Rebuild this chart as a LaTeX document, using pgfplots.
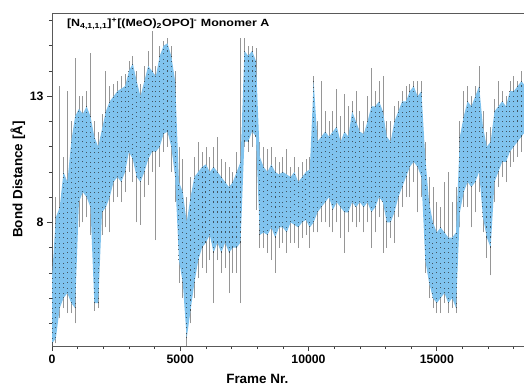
\documentclass[border=0pt]{standalone}
\usepackage{pgfplots}
\pgfplotsset{compat=1.18}
\usepackage{pgfplotstable}
\usepgfplotslibrary{fillbetween}
\usepackage{graphicx}
\usepackage{fontspec}
\setmainfont{Liberation Sans}
\usetikzlibrary{calc}
\definecolor{bandblue}{RGB}{128,195,238}
\definecolor{spikegray}{RGB}{150,150,150}

\pgfplotstableread{
f lo hi slo shi
0 3.2 5.8 3.1 7.0
150 3.4 8.2 3.2 9.0
300 4.6 8.6 4.2 13.4
450 5.0 10.0 4.6 10.6
600 5.2 9.6 4.4 13.2
750 4.8 11.2 4.4 12.0
900 4.6 12.2 4.0 14.5
1050 8.8 12.5 7.8 13.0
1200 9.2 12.3 8.0 13.0
1350 9.0 12.6 8.2 13.2
1500 8.6 12.2 7.5 14.7
1650 4.8 11.4 4.5 12.0
1800 4.8 11.0 4.6 11.6
1950 8.4 11.7 7.5 12.3
2100 8.6 12.4 7.8 14.0
2250 9.0 12.8 7.6 13.4
2400 9.6 13.0 8.8 13.5
2550 9.8 13.2 9.0 13.6
2700 9.6 13.3 8.8 13.8
2850 10.0 13.4 9.2 13.9
3000 10.8 14.0 10.0 14.4
3150 10.5 14.3 9.6 14.6
3300 9.8 13.6 8.0 14.0
3450 9.6 13.0 7.9 13.5
3600 10.0 13.6 9.0 14.2
3750 10.5 14.2 9.5 14.8
3900 10.8 14.0 10.0 15.6
4050 10.8 13.8 7.3 14.2
4200 11.0 14.6 10.2 15.0
4350 11.5 15.0 10.8 15.2
4500 11.6 15.1 11.0 15.3
4650 11.0 14.6 10.0 15.0
4800 9.8 13.6 8.8 14.0
4950 6.5 9.6 5.6 11.0
5100 5.6 9.2 5.0 10.5
5250 3.4 8.0 3.1 9.0
5400 4.5 9.0 4.0 9.8
5550 5.6 9.8 5.0 10.6
5700 6.5 10.0 5.8 11.2
5850 7.0 10.2 6.2 10.8
6000 7.2 10.3 6.0 11.0
6150 7.5 10.0 6.5 10.6
6300 6.8 10.2 4.8 11.0
6450 7.2 10.0 6.5 11.4
6600 6.8 9.8 6.0 10.5
6750 7.2 9.6 6.2 10.4
6900 6.8 9.4 5.2 10.2
7050 7.0 9.6 6.0 10.0
7200 7.0 10.0 6.0 10.8
7350 7.2 10.4 4.8 15.3
7500 11.2 14.8 11.0 15.3
7650 11.2 14.6 10.8 15.0
7800 11.6 14.8 11.0 15.0
7950 11.4 14.4 8.5 14.9
8100 7.5 10.6 7.0 11.2
8250 7.6 10.2 7.0 11.0
8400 7.5 10.0 6.8 10.9
8550 7.8 10.3 6.5 11.0
8700 7.4 10.0 6.0 10.6
8850 7.8 9.9 7.0 10.4
9000 7.8 10.0 7.2 10.6
9150 7.6 9.9 6.8 10.9
9300 8.0 9.8 7.2 10.2
9450 7.9 10.0 7.2 10.6
9600 7.8 9.6 7.0 10.2
9750 8.0 9.8 7.4 10.4
9900 8.1 10.0 7.5 10.5
10050 7.8 10.1 7.0 10.6
10200 8.0 13.6 7.6 13.8
10350 8.4 11.2 7.6 12.0
10500 8.6 11.4 8.0 13.6
10650 8.8 11.6 8.0 12.4
10800 9.0 11.4 7.8 12.0
10950 8.5 11.6 7.6 12.4
11100 8.8 11.8 8.0 13.3
11250 8.6 11.2 7.4 12.2
11400 8.4 11.6 6.8 13.1
11550 8.4 11.4 7.6 12.6
11700 8.8 12.4 8.0 12.8
11850 8.6 12.0 7.8 13.2
12000 8.8 11.6 8.0 12.4
12150 8.6 11.5 7.6 12.0
12300 8.8 12.0 8.0 13.0
12450 8.4 12.6 7.0 14.1
12600 8.6 12.6 7.6 13.2
12750 9.0 12.8 8.2 13.6
12900 8.8 12.4 6.8 13.8
13050 8.0 11.4 7.0 12.0
13200 8.0 11.2 7.4 12.0
13350 8.4 12.0 7.2 12.6
13500 9.0 12.4 8.2 12.8
13650 9.4 12.8 8.6 13.2
13800 9.8 12.8 9.0 13.4
13950 10.2 13.2 9.0 13.5
14100 10.4 13.4 9.6 13.6
14250 10.2 13.0 8.4 13.6
14400 9.8 13.2 9.0 13.6
14550 6.5 10.6 6.0 11.2
14700 5.6 8.8 5.0 9.8
14850 5.0 8.0 4.6 9.4
15000 4.8 7.6 4.4 8.8
15150 5.0 7.8 4.4 8.6
15300 5.2 7.6 4.8 9.6
15450 4.8 7.4 4.4 10.0
15600 5.0 7.4 4.6 8.8
15750 4.6 7.6 4.4 9.4
15900 8.4 11.4 7.8 12.0
16050 9.2 12.2 8.6 13.2
16200 9.6 12.8 8.6 13.4
16350 9.4 12.6 7.8 13.0
16500 9.6 13.0 8.4 13.4
16650 10.0 13.4 9.2 14.2
16800 8.2 11.8 7.6 12.4
16950 7.4 11.0 6.6 11.6
17100 7.0 11.2 5.9 11.8
17250 9.6 12.4 8.8 12.9
17400 10.0 12.6 9.4 13.6
17550 10.4 12.8 9.8 13.2
17700 10.4 12.6 9.6 13.0
17850 10.8 13.2 10.2 13.6
18000 11.0 13.2 10.4 13.8
18150 11.2 13.4 10.6 13.6
18300 11.4 13.6 10.8 14.0
18450 11.6 13.4 11.0 13.8
}\data

\begin{document}
\begin{tikzpicture}
\begin{axis}[
  set layers,
  scale only axis, width=479.7bp, height=333bp,
  xmin=0, xmax=18700, ymin=3.1, ymax=16.3,
  scaled x ticks=false, scaled y ticks=false,
  xtick={0,5000,10000,15000}, xticklabels={0,5000,10000,15000},
  minor xtick={1000,2000,3000,4000,6000,7000,8000,9000,11000,12000,13000,14000,16000,17000,18000},
  ytick={8,13}, yticklabels={8,13},
  minor ytick={4,5,6,7,9,10,11,12,14,15,16},
  tick align=outside, xtick pos=bottom, ytick pos=left,
  major tick length=5bp, minor tick length=3bp,
  tick style={black!75, line width=0.6bp},
  axis line style={black!65, line width=0.9bp},
  ticklabel style={font=\bfseries\fontsize{12.3}{14}\selectfont},
  xlabel={Frame Nr.}, ylabel={Bond Distance [Å]},
  label style={font=\bfseries\fontsize{13.5}{16}\selectfont},
  xlabel style={at={(axis description cs:0.428,-0.099)}, anchor=center},
  ylabel style={at={(axis description cs:-0.071,0.5)}, anchor=center},
]
\addplot[on layer=axis background, draw=none, mark=none, forget plot,
  error bars/.cd, y dir=plus, y explicit, error mark=none,
  error bar style={draw=spikegray, line width=0.8bp}]
  table[x=f, y=slo, y error plus expr={\thisrow{shi}-\thisrow{slo}}] {\data};
\addplot[draw=none, name path=up, forget plot] table[x=f, y=hi] {\data};
\addplot[draw=none, name path=dn, forget plot] table[x=f, y=lo] {\data};
\addplot[fill=bandblue, draw=none, forget plot] fill between[of=up and dn];
\addplot[draw=none, mark=none, forget plot,
  error bars/.cd, y dir=plus, y explicit, error mark=none,
  error bar style={draw=black!85, opacity=0.7, line width=1bp, dash pattern=on 1.2bp off 3.4bp on 0.8bp off 4.6bp}]
  table[x=f, y=lo, y error plus expr={\thisrow{hi}-\thisrow{lo}}] {\data};
\node[anchor=west, font=\bfseries\fontsize{10.5}{12}\selectfont, inner sep=0pt]
  at (rel axis cs:0.031,0.967)
  {\scalebox{1.19}[1]{[N\textsubscript{4,1,1,1}]\textsuperscript{+}[(MeO)\textsubscript{2}OPO]\textsuperscript{-} Monomer A}};
\end{axis}
\pgfresetboundingbox
\path[use as bounding box] ($(current axis.south west)+(-52bp,-41bp)$) rectangle ($(current axis.south west)+(472bp,346bp)$);
\end{tikzpicture}
\end{document}
